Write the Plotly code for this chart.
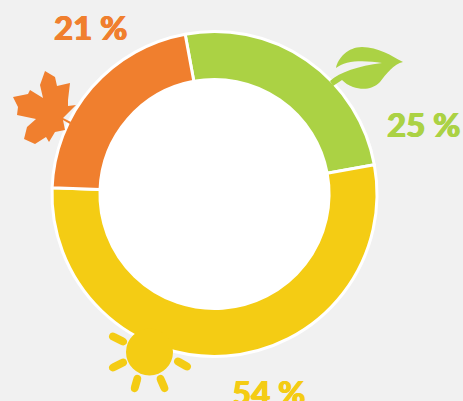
import math
import plotly.graph_objects as go

seasons = ["Summer", "Winter", "Autumn"]
shares = [25, 53.5, 21.5]
colours = ["#ABD244", "#F4CC14", "#F07F2E"]
labels = ["25 %", "54 %", "21 %"]
label_xy = [(423.5, 123.5), (268, 392), (90.5, 27)]

W, H = 463, 401
CX, CY, R = 214.5, 194, 162.5

fig = go.Figure(go.Pie(
    labels=seasons, values=shares, sort=False, direction="clockwise", rotation=-10.4,
    hole=0.705, textinfo="none", hoverinfo="label+percent", showlegend=False,
    marker=dict(colors=colours, line=dict(color="white", width=3)),
    domain=dict(x=[(CX - R) / W, (CX + R) / W], y=[1 - (CY + R) / H, 1 - (CY - R) / H]),
))

# invisible pixel-space axes for the decorative icons and the labels
fig.add_trace(go.Scatter(x=[0], y=[0], mode="markers", marker=dict(opacity=0), hoverinfo="skip", showlegend=False))

leaf = ("M336,68 C338,58 348,47 362,47 C378,47 392,56 403,62 C394,64 386,74 380,82 "
        "C372,90 362,90 353,87 C348,85 345,83 342,80 L333,86 L330,81 "
        "C340,72 358,66 382,63 C365,60 345,60 336,68 Z")
maple_pts = [(45, 71), (55, 77), (57, 86), (70, 83), (68, 100), (68, 106), (76, 105), (63, 118),
             (71, 122), (70, 124), (63, 120), (65, 130), (55, 132), (49, 142), (46, 137), (35, 144), (24, 139), (27, 127),
             (36, 119), (17, 115), (18, 107), (13, 97), (28, 94), (30, 90), (43, 98), (40, 85)]
maple = "M" + " L".join(f"{x},{y}" for x, y in maple_pts) + " Z"


def ray(x0, y0, x1, y1, w=4.0):
    d = math.hypot(x1 - x0, y1 - y0)
    ux, uy = (x1 - x0) / d, (y1 - y0) / d
    nx, ny = -uy * w, ux * w
    ex, ey = ux * w * 1.3, uy * w * 1.3
    return (f"M{x0+nx},{y0+ny} L{x1+nx},{y1+ny} Q{x1+nx+ex},{y1+ny+ey} {x1+ex},{y1+ey} "
            f"Q{x1-nx+ex},{y1-ny+ey} {x1-nx},{y1-ny} L{x0-nx},{y0-ny} "
            f"Q{x0-nx-ex},{y0-ny-ey} {x0-ex},{y0-ey} Q{x0+nx-ex},{y0+ny-ey} {x0+nx},{y0+ny} Z")


shapes = [
    dict(type="circle", x0=CX - 115, x1=CX + 115, y0=CY - 115, y1=CY + 115,
         fillcolor="white", line_width=0),
    dict(type="path", path=leaf, fillcolor=colours[0], line_width=0),
    dict(type="path", path=maple, fillcolor=colours[2], line_width=0),
    dict(type="circle", x0=149.5 - 23.5, x1=149.5 + 23.5, y0=352 - 23.5, y1=352 + 23.5,
         fillcolor=colours[1], line_width=0),
]
for r in [(114, 337, 122, 341), (114, 367, 122, 363), (137, 380, 135, 387),
          (161, 380, 164, 387), (179, 362, 186, 366)]:
    shapes.append(dict(type="path", path=ray(*r), fillcolor=colours[1], line_width=0))
for s in shapes:
    s.update(xref="x", yref="y", layer="above")

annotations = [
    dict(x=x, y=y, xref="x", yref="y", text=t, showarrow=False, xanchor="center", yanchor="middle",
         font=dict(family="Lato", size=33, color=c, weight=900,
                   shadow=f"0.6px 0 0 {c}, -0.6px 0 0 {c}"))
    for (x, y), t, c in zip(label_xy, labels, colours)
]

fig.update_layout(
    width=W, height=H, margin=dict(l=0, r=0, t=0, b=0),
    paper_bgcolor="#F1F1F1", plot_bgcolor="rgba(0,0,0,0)",
    xaxis=dict(range=[0, W], visible=False, fixedrange=True),
    yaxis=dict(range=[H, 0], visible=False, fixedrange=True),
    shapes=shapes, annotations=annotations,
)
fig.write_html("out.html", config={"displayModeBar": False},
               post_script="document.body.style.margin='0';document.body.style.background='#F1F1F1';document.documentElement.style.overflow='hidden';")
